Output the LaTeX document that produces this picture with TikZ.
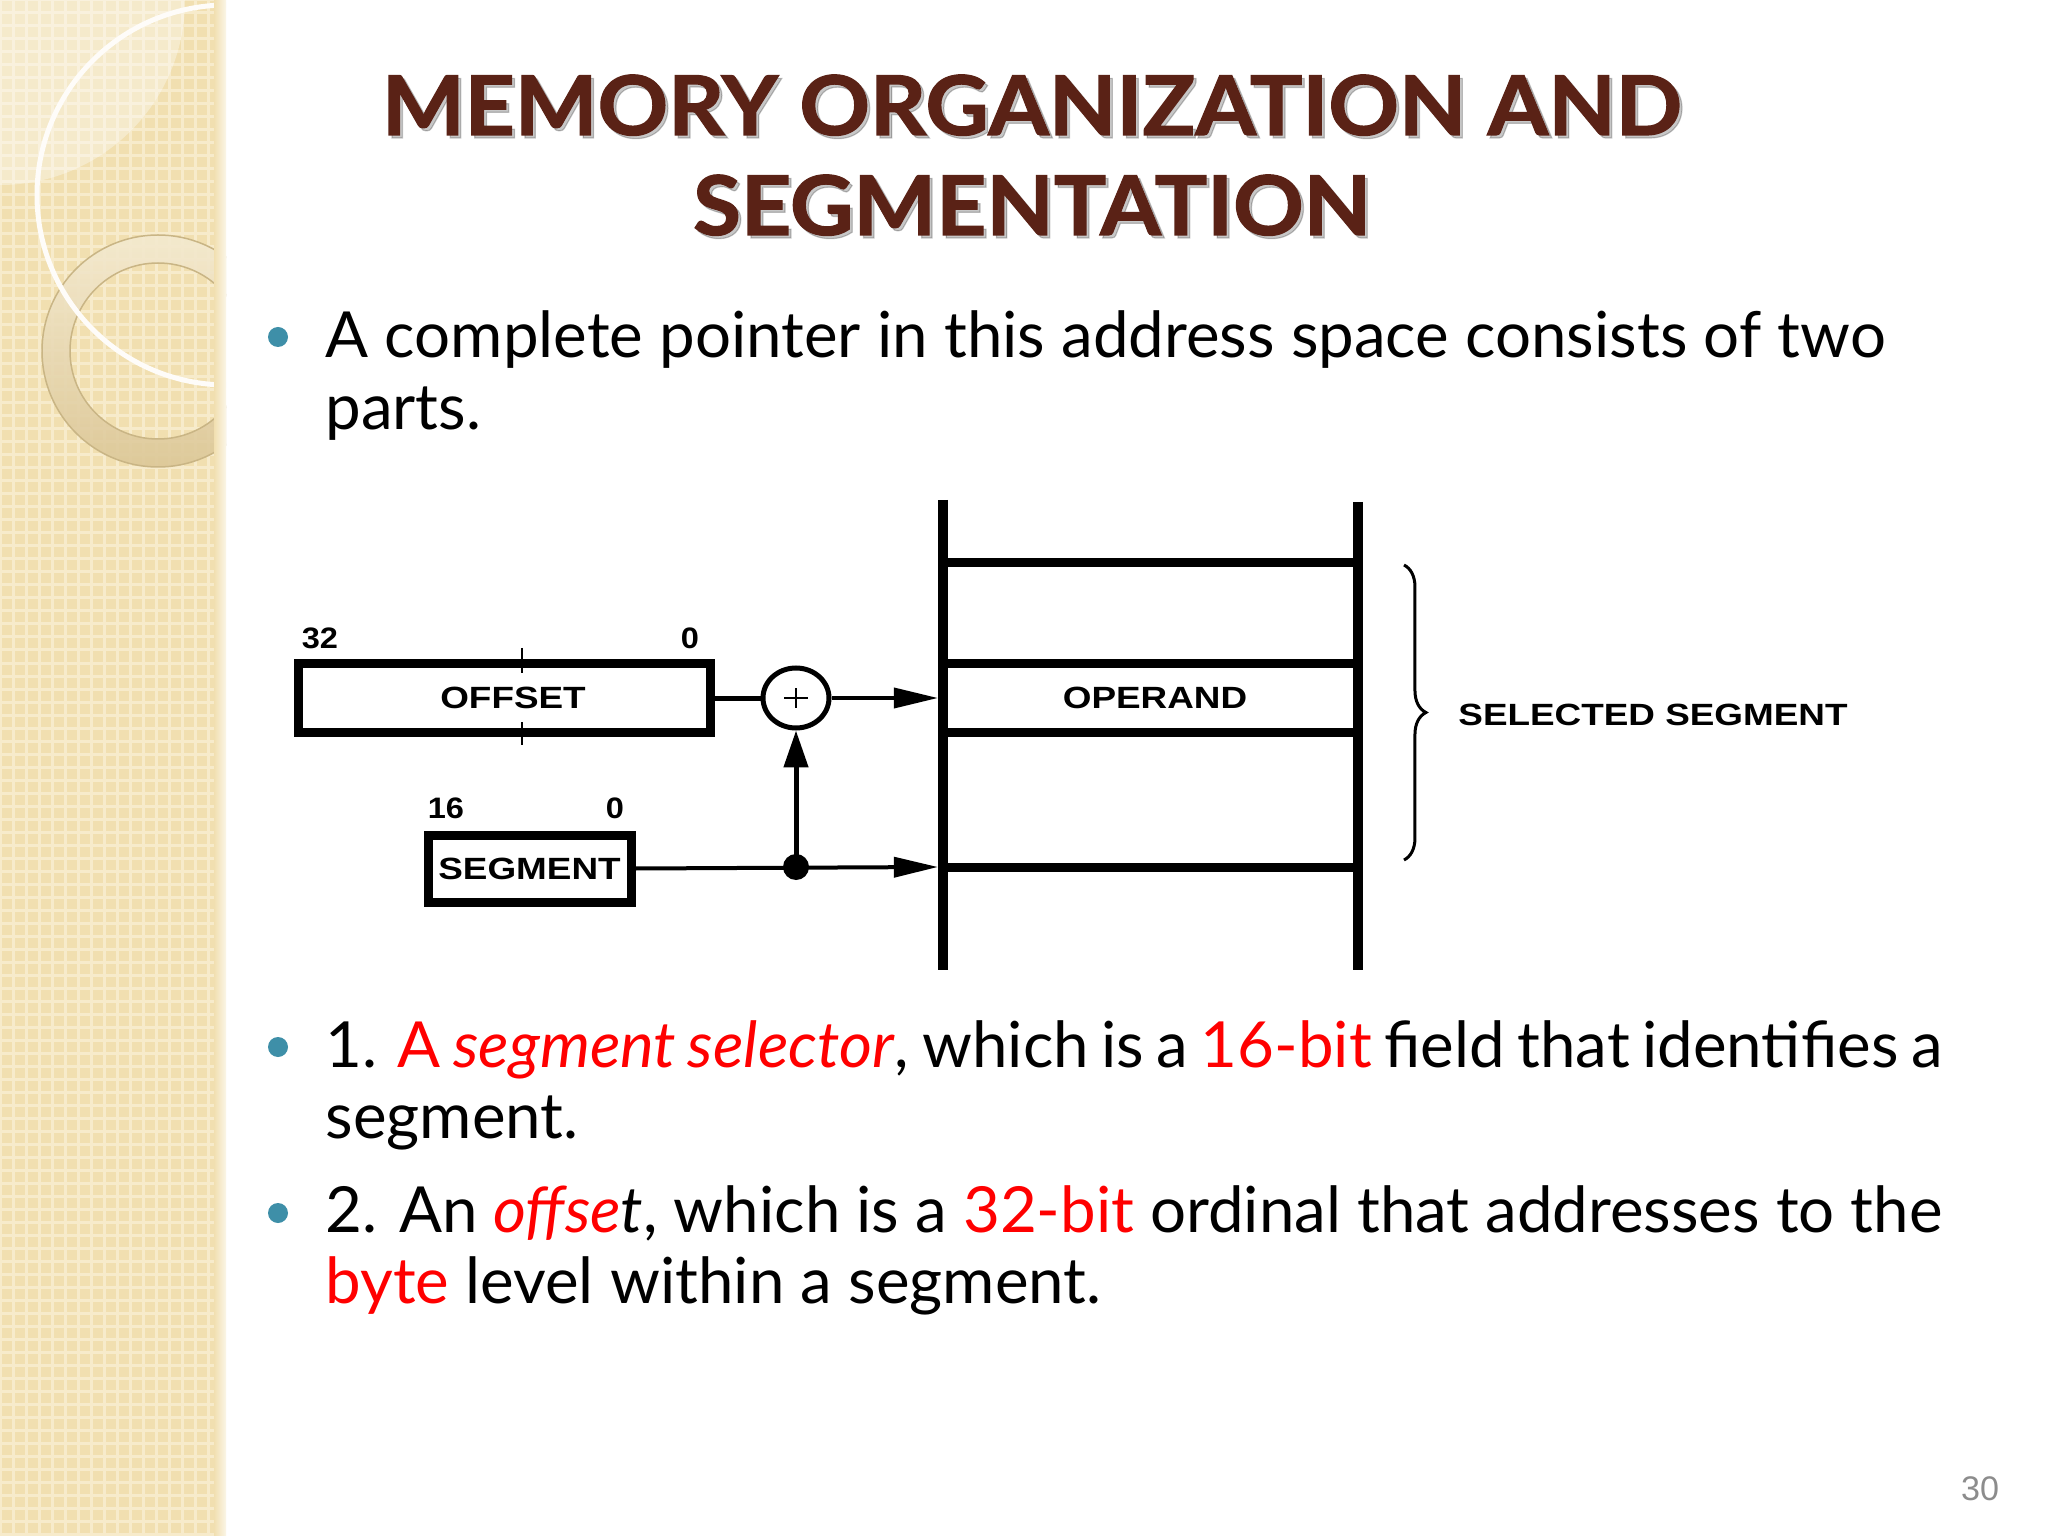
\documentclass[tikz,border=0pt]{standalone}
\usepackage{fontspec}
\setmainfont{Lato}
\newfontfamily\titlefont{Lato}[BoldFeatures={FakeBold=1.4}]
\newfontfamily\diagfont{Liberation Sans}
\usetikzlibrary{arrows.meta,decorations.pathreplacing,shapes.geometric}
\definecolor{titlebrown}{HTML}{5A2216}
\definecolor{bulletc}{HTML}{3E8FA8}
\definecolor{bandc}{HTML}{F1DFB0}
\definecolor{gridc}{HTML}{F7EBCB}
\definecolor{ringlight}{HTML}{F4EAD0}
\definecolor{ringdark}{HTML}{DCC797}
\definecolor{ringedge}{HTML}{C9B585}
\definecolor{pagenum}{HTML}{8C8C8C}
\definecolor{hired}{HTML}{FF0000}
\newdimen\pxu
\pxu=0.3515625pt
\tikzset{
  titletext/.style={font=\titlefont\fontsize{29}{34}\selectfont\bfseries, text=titlebrown, inner sep=0, anchor=base},
  titleshadow/.style={font=\titlefont\fontsize{29}{34}\selectfont\bfseries, text=black, opacity=0.22, inner sep=0, anchor=base},
  bodytext/.style={font=\fontsize{22.35}{25.3}\selectfont, inner sep=0, anchor=base west},
  bulletdot/.style={fill=bulletc},
  regbox/.style={draw, line width=9*\pxu, inner sep=0, font=\diagfont\bfseries\fontsize{10.8}{12}\selectfont},
  diaglabel/.style={inner sep=0, font=\diagfont\bfseries\fontsize{10.8}{12}\selectfont},
  bitnum/.style={inner sep=0, font=\diagfont\bfseries\fontsize{10.4}{12}\selectfont},
  memline/.style={line width=10*\pxu},
  slotline/.style={line width=9*\pxu},
  arr/.style={line width=4*\pxu, -{Triangle[length=15.5pt, width=7pt]}},
  uparr/.style={line width=5*\pxu, -{Triangle[length=13pt, width=8.4pt]}},
}
\begin{document}
\begin{tikzpicture}[x=0.3515625pt, y=-0.3515625pt]
\useasboundingbox (0,0) rectangle (2048,1536);
\fill[white] (0,0) rectangle (2048,1536);

% ---- decorative side band ----
\begin{scope}
  \clip (0,0) rectangle (226,1536);
  \fill[bandc] (0,0) rectangle (226,1536);
  \foreach \k in {0,13,...,1536} {\draw[gridc, line width=3*\pxu] (0,\k) -- (226,\k);}
  \foreach \k in {0,13,...,226} {\draw[gridc, line width=3*\pxu] (\k,0) -- (\k,1536);}
  \fill[white, opacity=0.35] (0,0) circle[radius=185];
  \shade[even odd rule, top color=ringlight, bottom color=ringdark, opacity=0.9]
     (158,351) circle[radius=116] (158,351) circle[radius=88];
  \draw[ringedge, line width=1.5*\pxu] (158,351) circle[radius=116];
  \draw[ringedge, line width=1.5*\pxu] (158,351) circle[radius=88];
  \draw[white!92!bandc, line width=5*\pxu] (227,195) circle[radius=190];
  \shade[left color=bandc, right color=white!70!bandc] (214,0) rectangle (226,1536);
\end{scope}

% ---- title ----
\node[titleshadow] at (1035,138) {\scalebox{1.06}[1]{MEMORY ORGANIZATION AND}};
\node[titleshadow] at (1035,238) {\scalebox{1.06}[1]{SEGMENTATION}};
\node[titletext] (title1) at (1032,135) {\scalebox{1.06}[1]{MEMORY ORGANIZATION AND}};
\node[titletext] (title2) at (1032,235) {\scalebox{1.06}[1]{SEGMENTATION}};

% ---- bullets ----
\fill[bulletdot] (278,337) circle[radius=10];
\fill[bulletdot] (278,1047) circle[radius=10];
\fill[bulletdot] (278,1213) circle[radius=10];

\node[bodytext] (para1) at (325,358) {\parbox[t]{568.5pt}{\tolerance=10000\hyphenpenalty=10000
A complete pointer in this address space consists of two\\parts.}};
\node[bodytext] (para2) at (325,1067) {\parbox[t]{568.5pt}{\tolerance=10000\hyphenpenalty=10000
1. {\color{hired}A \textit{segment selector}}, which is a {\color{hired}16-bit} field that identifies a\linebreak segment.}};
\node[bodytext] (para3) at (325,1232) {\parbox[t]{568.5pt}{\tolerance=10000\hyphenpenalty=10000
2. An \textit{{\color{hired}offse}t}, which is a {\color{hired}32-bit} ordinal that addresses to the\linebreak {\color{hired}byte} level within a segment.}};

% ---- diagram ----
\node[regbox, minimum width=412*\pxu, minimum height=68.5*\pxu] (offset) at (504,698) {\hspace{18\pxu}\scalebox{1.2}[1]{OFFSET}};
\draw[line width=2*\pxu] (522,648) -- (522,673);
\draw[line width=2*\pxu] (522,722) -- (522,745);
\node[bitnum] (b32) at (320,638) {\scalebox{1.1}[1]{32}};
\node[bitnum] (b0a) at (690,638) {\scalebox{1.1}[1]{0}};

\node[regbox, minimum width=203*\pxu, minimum height=67*\pxu] (segment) at (529.5,868.5) {\scalebox{1.2}[1]{SEGMENT}};
\node[bitnum] (b16) at (446,808) {\scalebox{1.1}[1]{16}};
\node[bitnum] (b0b) at (615,808) {\scalebox{1.1}[1]{0}};

\node[draw, ellipse, line width=5*\pxu, minimum width=66*\pxu, minimum height=60*\pxu, inner sep=0] (sum) at (796,698) {};
\draw[line width=2*\pxu] (sum.center) +(-12,0) -- +(12,0);
\draw[line width=2*\pxu] (sum.center) +(0,-10) -- +(0,10);

\node[circle, fill, minimum size=26*\pxu, inner sep=0] (dot) at (796,867) {};

% memory column
\coordinate (mtl) at (943,500);
\coordinate (mbl) at (943,970);
\coordinate (mtr) at (1358,502);
\coordinate (mbr) at (1358,970);
\draw[memline] (mtl) -- (mbl);
\draw[memline] (mtr) -- (mbr);
\foreach \yy in {563,663,732,867} {\draw[slotline] (943,\yy) -- (1358,\yy);}
\node[diaglabel] (operand) at (1155,698) {\scalebox{1.2}[1]{OPERAND}};

\coordinate (opin) at (938,698);
\coordinate (segin) at (938,867);

\draw[line width=5*\pxu] (offset.east) -- (sum.west);
\draw[arr] (sum.east) -- (opin);
\draw[arr] (segment.east) -- (segin);
\draw[uparr] (dot.center) -- (sum.south);

% brace
\draw[line width=3*\pxu, decorate, decoration={brace, amplitude=7.7pt}] (1404,565) -- (1404,860);
\node[diaglabel] (selseg) at (1653,715) {\scalebox{1.2}[1]{SELECTED SEGMENT}};

% page number
\node[inner sep=0, text=pagenum, font=\diagfont\fontsize{12}{14}\selectfont] (pnum) at (1980,1489) {30};
\end{tikzpicture}
\end{document}
